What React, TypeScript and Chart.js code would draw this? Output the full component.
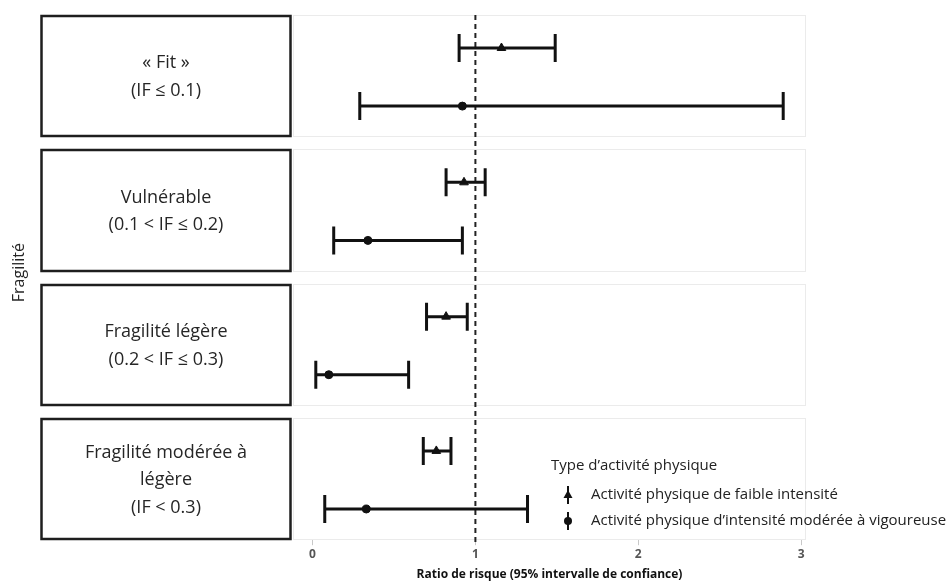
import React, { useEffect, useRef } from "react";
import { Chart, registerables } from "chart.js";
Chart.register(...registerables);

// ---- data ----
const panelLabels: string[][] = [
  ["« Fit »", "(IF ≤ 0.1)"],
  ["Vulnérable", "(0.1 < IF ≤ 0.2)"],
  ["Fragilité légère", "(0.2 < IF ≤ 0.3)"],
  ["Fragilité modérée à", "légère", "(IF < 0.3)"],
];
const seriesNames = [
  "Activité physique de faible intensité",
  "Activité physique d’intensité modérée à vigoureuse",
];
const lowEst = [1.16, 0.93, 0.82, 0.76];
const lowLower = [0.9, 0.82, 0.7, 0.68];
const lowUpper = [1.49, 1.06, 0.95, 0.85];
const modEst = [0.92, 0.34, 0.1, 0.33];
const modLower = [0.29, 0.13, 0.02, 0.075];
const modUpper = [2.89, 0.92, 0.59, 1.32];
const tickValues = [0, 1, 2, 3];
const refLine = 1;
const xTitle = "Ratio de risque (95% intervalle de confiance)";
const yTitle = "Fragilité";
const legendTitle = "Type d’activité physique";

// ---- layout helpers ----
const GAP = 12 / 122;
const ROW_OFF = [0.27, 0.745];
const yPos = (panel: number, row: number) => panel * (1 + GAP) + ROW_OFF[row];
const FONT = "'Open Sans', Lato, sans-serif";

const decorPlugin = {
  id: "forestDecor",
  beforeDraw(chart: any) {
    const { ctx, chartArea, scales } = chart;
    const y = scales.y;
    ctx.save();
    ctx.fillStyle = "#ffffff";
    ctx.fillRect(0, 0, chart.width, chart.height);
    panelLabels.forEach((lines, i) => {
      const top = Math.round(y.getPixelForValue(i * (1 + GAP)));
      const bot = Math.round(y.getPixelForValue(i * (1 + GAP) + 1));
      // panel
      ctx.strokeStyle = "#ebebeb";
      ctx.lineWidth = 1;
      ctx.strokeRect(chartArea.left + 0.5, top + 0.5, chartArea.right - chartArea.left - 1, bot - top - 1);
      // label box
      ctx.strokeStyle = "#1e1e1e";
      ctx.lineWidth = 2.5;
      ctx.strokeRect(41.5, top + 1, 249, bot - top - 2);
      ctx.fillStyle = "#262626";
      ctx.font = `18px ${FONT}`;
      ctx.textAlign = "center";
      ctx.textBaseline = "middle";
      const cy = (top + bot) / 2 + 1;
      const sp = 27.5;
      lines.forEach((t, k) => {
        ctx.fillText(t, 166, cy + (k - (lines.length - 1) / 2) * sp);
      });
    });
    // y title
    ctx.save();
    ctx.translate(19, (chartArea.top + chartArea.bottom) / 2 - 5);
    ctx.rotate(-Math.PI / 2);
    ctx.fillStyle = "#262626";
    ctx.font = `16px ${FONT}`;
    ctx.textAlign = "center";
    ctx.textBaseline = "middle";
    ctx.fillText(yTitle, 0, 0);
    ctx.restore();
    ctx.restore();
  },
  beforeDatasetsDraw(chart: any) {
    const { ctx, chartArea, scales } = chart;
    const x = scales.x;
    const y = scales.y;
    ctx.save();
    // reference line
    const rx = x.getPixelForValue(refLine);
    ctx.strokeStyle = "#222";
    ctx.lineWidth = 2;
    ctx.setLineDash([5, 4]);
    ctx.beginPath();
    ctx.moveTo(rx, chartArea.top);
    ctx.lineTo(rx, chartArea.bottom + 5);
    ctx.stroke();
    ctx.setLineDash([]);
    // error bars
    chart.data.datasets.forEach((ds: any) => {
      ds.data.forEach((p: any, i: number) => {
        const py = y.getPixelForValue(p.y);
        const x1 = x.getPixelForValue(ds.errLow[i]);
        const x2 = x.getPixelForValue(ds.errHigh[i]);
        ctx.strokeStyle = "#111";
        ctx.lineWidth = 3;
        ctx.beginPath();
        ctx.moveTo(x1, py);
        ctx.lineTo(x2, py);
        ctx.moveTo(x1, py - 14);
        ctx.lineTo(x1, py + 14);
        ctx.moveTo(x2, py - 14);
        ctx.lineTo(x2, py + 14);
        ctx.stroke();
      });
    });
    ctx.restore();
  },
  afterDraw(chart: any) {
    const { ctx } = chart;
    ctx.save();
    ctx.fillStyle = "#222";
    ctx.textAlign = "left";
    ctx.textBaseline = "middle";
    ctx.font = `15px ${FONT}`;
    ctx.fillText(legendTitle, 551, 466);
    const rows = [495, 521];
    rows.forEach((ry, k) => {
      const sx = 568;
      ctx.strokeStyle = "#111";
      ctx.lineWidth = 2;
      ctx.beginPath();
      ctx.moveTo(sx, ry - 9);
      ctx.lineTo(sx, ry + 9);
      ctx.stroke();
      ctx.fillStyle = "#111";
      ctx.beginPath();
      if (k === 0) {
        ctx.moveTo(sx, ry - 5);
        ctx.lineTo(sx + 4.5, ry + 3);
        ctx.lineTo(sx - 4.5, ry + 3);
        ctx.closePath();
      } else {
        ctx.arc(sx, ry, 4, 0, Math.PI * 2);
      }
      ctx.fill();
      ctx.fillStyle = "#222";
      ctx.fillText(seriesNames[k], 591, ry);
    });
    ctx.restore();
  },
};

export default function App() {
  const ref = useRef<HTMLCanvasElement | null>(null);
  useEffect(() => {
    document.body.style.margin = "0";
    if (!ref.current) return;
    const chart = new Chart(ref.current, {
      type: "scatter",
      data: {
        datasets: [
          {
            label: seriesNames[0],
            data: lowEst.map((v, i) => ({ x: v, y: yPos(i, 0) })),
            errLow: lowLower,
            errHigh: lowUpper,
            pointStyle: "triangle",
            pointRadius: 5,
            backgroundColor: "#111",
            borderColor: "#111",
          } as any,
          {
            label: seriesNames[1],
            data: modEst.map((v, i) => ({ x: v, y: yPos(i, 1) })),
            errLow: modLower,
            errHigh: modUpper,
            pointStyle: "circle",
            pointRadius: 4,
            backgroundColor: "#111",
            borderColor: "#111",
          } as any,
        ],
      },
      options: {
        responsive: false,
        animation: false,
        devicePixelRatio: 1,
        layout: { padding: { left: 293, right: 146, top: 15, bottom: 4 } },
        plugins: { legend: { display: false }, tooltip: { enabled: false } },
        scales: {
          x: {
            type: "linear",
            min: -0.12,
            max: 3.03,
            afterBuildTicks: (s: any) => {
              s.ticks = tickValues.map((v) => ({ value: v }));
            },
            grid: { drawOnChartArea: false, drawTicks: true, tickLength: 5, color: "#c8c8c8" },
            border: { display: false },
            ticks: {
              font: { family: FONT, size: 12, weight: "bold" },
              color: "#555",
              padding: 2,
            },
            title: {
              display: true,
              text: xTitle,
              font: { family: FONT, size: 12, weight: "bold" },
              color: "#111",
              padding: { top: 4, bottom: 2 },
            },
          },
          y: {
            type: "linear",
            min: 0,
            max: 4 + 3 * GAP,
            reverse: true,
            display: false,
          },
        },
      } as any,
      plugins: [decorPlugin],
    });
    return () => chart.destroy();
  }, []);
  return (
    <div style={{ position: "fixed", left: 0, top: 0, width: 952, height: 588, background: "#fff" }}>
      <canvas ref={ref} width={952} height={588} style={{ display: "block" }} />
    </div>
  );
}
